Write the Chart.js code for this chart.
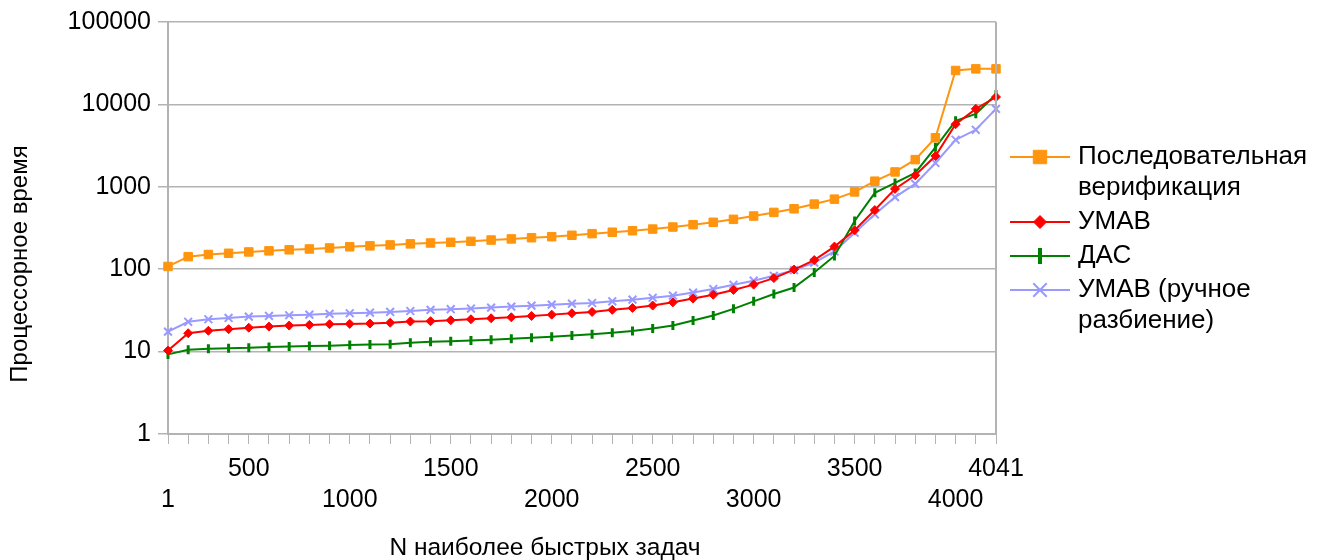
<!DOCTYPE html>
<html>
<head>
<meta charset="utf-8">
<script src="https://cdn.jsdelivr.net/npm/chart.js@4.4.1/dist/chart.umd.min.js"></script>
<style>
  html, body { margin: 0; padding: 0; background: #fff; }
</style>
</head>
<body>
<canvas id="timeChart" width="1322" height="560"></canvas>
<script>
// x categories: only some are labelled, staggered in two rows
const tickLabels = [
    ['', '1'], '', '', '', ['500', ''], '', '', '', '', ['', '1000'],
    '', '', '', '', ['1500', ''], '', '', '', '', ['', '2000'],
    '', '', '', '', ['2500', ''], '', '', '', '', ['', '3000'],
    '', '', '', '', ['3500', ''], '', '', '', '', ['', '4000'],
    '', ['4041', '']
];

const yTicks = [1, 10, 100, 1000, 10000, 100000];

const seqVerif = [108, 142, 151, 156, 162, 167, 172, 176, 181, 187,
    192, 197, 203, 208, 212, 218, 226, 233, 241, 248,
    258, 270, 281, 293, 307, 325, 347, 371, 403, 442,
    489, 541, 617, 708, 867, 1170, 1514, 2136, 3940, 25800,
    27000, 27000];

const umav = [10.3, 16.7, 17.9, 18.7, 19.5, 20.1, 20.7, 21.1, 21.5, 21.7,
    21.9, 22.4, 23.2, 23.4, 24.0, 24.7, 25.4, 26.1, 27.1, 28.1,
    29.2, 30.3, 32.1, 33.9, 36.2, 39.6, 44, 49, 56, 65,
    78, 99, 129, 188, 297, 522, 943, 1380, 2360, 5750,
    8830, 12300];

const das = [9.25, 10.5, 10.8, 11.0, 11.1, 11.4, 11.5, 11.7, 11.8, 12.0,
    12.2, 12.3, 12.8, 13.2, 13.4, 13.6, 13.9, 14.3, 14.7, 15.1,
    15.7, 16.2, 16.9, 17.8, 19.1, 20.7, 23.8, 27.4, 33, 40.7,
    50, 60, 91, 145, 385, 844, 1115, 1473, 3010, 6320,
    7680, 13200];

const umavManual = [17.5, 23.0, 24.7, 25.6, 26.6, 27.1, 27.6, 28.1, 28.7, 29.2,
    29.7, 30.3, 31.1, 32.1, 32.7, 33.3, 34.2, 35.2, 36.1, 37.1,
    38.2, 38.9, 40.8, 42.7, 45, 47.7, 52, 57.5, 64.8, 72.5,
    83.2, 97.5, 120, 164, 277, 463, 749, 1085, 1945, 3725,
    4920, 8830];

const seriesNames = [
    ['Последовательная', 'верификация'],
    ['УМАВ'],
    ['ДАС'],
    ['УМАВ (ручное', 'разбиение)']
];

const xTitle = 'N наиболее быстрых задач';
const yTitle = 'Процессорное время';

const FONT = 'Liberation Sans';
const GRID = '#b3b3b3';

// legend on the right, text wraps like the original
const sideLegend = {
    id: 'sideLegend',
    afterDraw(chart) {
        const ctx = chart.ctx;
        let y = 157;
        chart.data.datasets.forEach((ds, i) => {
            ctx.save();
            ctx.strokeStyle = ds.borderColor;
            ctx.lineWidth = 2;
            ctx.beginPath();
            ctx.moveTo(1010, y);
            ctx.lineTo(1070, y);
            ctx.stroke();
            ctx.fillStyle = ds.pointBackgroundColor;
            ctx.strokeStyle = ds.pointBorderColor;
            ctx.lineWidth = ds.legendBorder;
            Chart.helpers.drawPoint(ctx, {
                pointStyle: ds.pointStyle,
                radius: ds.legendRadius,
                rotation: ds.pointRotation || 0,
                borderWidth: ds.legendBorder
            }, 1040, y);
            ctx.fillStyle = '#000';
            ctx.font = '26px "' + FONT + '"';
            ctx.textBaseline = 'middle';
            ctx.textAlign = 'left';
            seriesNames[i].forEach((line, k) => ctx.fillText(line, 1078, y + k * 31));
            ctx.restore();
            y += seriesNames[i].length * 31 + 3;
        });
    }
};

const axisTitles = {
    id: 'axisTitles',
    afterDraw(chart) {
        const ctx = chart.ctx;
        const area = chart.chartArea;
        ctx.save();
        // right frame line
        ctx.strokeStyle = GRID;
        ctx.lineWidth = 2;
        ctx.beginPath();
        ctx.moveTo(area.right, area.top);
        ctx.lineTo(area.right, area.bottom);
        ctx.stroke();

        ctx.fillStyle = '#000';
        ctx.font = '24.5px "' + FONT + '"';
        ctx.textAlign = 'center';
        ctx.textBaseline = 'middle';
        ctx.fillText(xTitle, 545, 548);
        ctx.font = '24px "' + FONT + '"';
        ctx.translate(20, 264);
        ctx.rotate(-Math.PI / 2);
        ctx.fillText(yTitle, 0, 0);
        ctx.restore();
    }
};

const mkSet = (label, data, color, style, radius, border, legendRadius, legendBorder, rotation) => ({
    label: label,
    data: data,
    borderColor: color,
    backgroundColor: color,
    pointBackgroundColor: color,
    pointBorderColor: color,
    borderWidth: 2,
    pointStyle: style,
    pointRadius: radius,
    pointBorderWidth: border,
    pointRotation: rotation || 0,
    legendRadius: legendRadius,
    legendBorder: legendBorder,
    tension: 0
});

new Chart(document.getElementById('timeChart'), {
    type: 'line',
    data: {
        labels: tickLabels,
        datasets: [
            mkSet(seriesNames[0].join(' '), seqVerif, '#ff950e', 'rect', 6, 1, 9.5, 1),
            mkSet(seriesNames[1].join(' '), umav, '#ff0000', 'rectRot', 4.5, 1, 6.5, 1),
            mkSet(seriesNames[2].join(' '), das, '#008000', 'line', 4.5, 3, 8, 4, 90),
            mkSet(seriesNames[3].join(' '), umavManual, '#9999ff', 'crossRot', 5.5, 2, 9.5, 2)
        ]
    },
    options: {
        responsive: false,
        animation: false,
        layout: {
            padding: { top: 20, right: 326, left: 0, bottom: 0 }
        },
        scales: {
            x: {
                offset: false,
                grid: {
                    drawOnChartArea: false,
                    color: GRID,
                    tickLength: 10,
                    lineWidth: 1
                },
                border: { color: GRID, width: 2 },
                ticks: {
                    autoSkip: false,
                    maxRotation: 0,
                    minRotation: 0,
                    color: '#000',
                    padding: 10,
                    font: { family: FONT, size: 25, lineHeight: 1.24 }
                },
                afterFit: (s) => { s.height = 126; }
            },
            y: {
                type: 'logarithmic',
                min: 1,
                max: 100000,
                grid: {
                    color: GRID,
                    tickLength: 10,
                    lineWidth: 1.5
                },
                border: { color: GRID, width: 2 },
                ticks: {
                    color: '#000',
                    padding: 7,
                    font: { family: FONT, size: 25 },
                    callback: (v) => String(v)
                },
                afterBuildTicks: (s) => { s.ticks = yTicks.map(v => ({ value: v })); },
                afterFit: (s) => { s.width = 168; }
            }
        },
        plugins: {
            legend: { display: false },
            tooltip: { enabled: false }
        }
    },
    plugins: [sideLegend, axisTitles]
});
</script>
</body>
</html>
